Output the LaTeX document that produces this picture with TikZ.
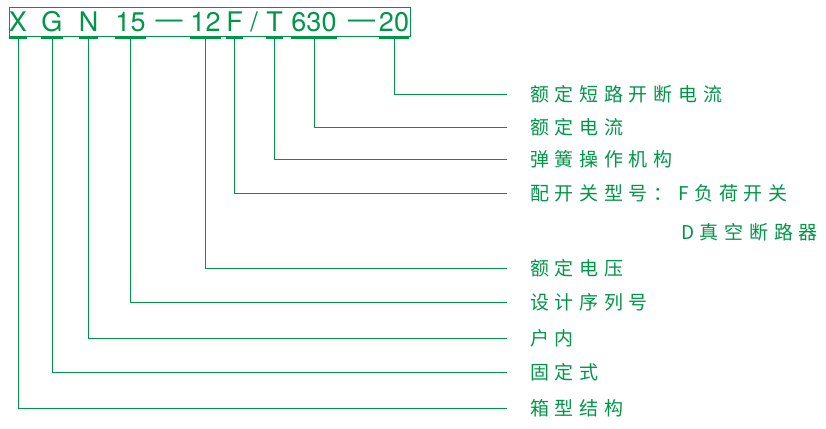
\documentclass[tikz,border=0pt]{standalone}
\usepackage{fontspec}
\setmainfont{TeX Gyre Heros}
\newfontfamily\cjk{Noto Sans CJK SC}[LetterSpace=30]
\definecolor{lgreen}{RGB}{0,150,72}

\begin{document}
\begin{tikzpicture}[x=1pt,y=-1pt,
    code/.style={anchor=base, inner sep=0pt, text depth=0pt, text=lgreen,
      font=\fontsize{27}{27}\selectfont},
    lbl/.style={anchor=west, inner sep=0pt, text=lgreen,
      font=\cjk\fontsize{19}{19}\selectfont},
    lead/.style={draw=lgreen, line width=0.9pt, shorten <=6pt, shorten >=23pt},
    tick/.style={draw=lgreen, line width=1.4pt}]
    \useasboundingbox (0,0) rectangle (826,428);
    % type code
    \node[code] (cx) at (18,32) {X};
    \node[code] (cg) at (52,32) {G};
    \node[code] (cn) at (88.5,32) {N};
    \node[code] (c15) at (130.5,32) {15};
    \node[code] (d1) at (169,29) {—};
    \node[code] (c12) at (205.5,32) {12};
    \node[code] (cf) at (234.5,32) {F};
    \node[code] (sl) at (254,32) {/};
    \node[code] (ct) at (274.5,32) {T};
    \node[code] (c630) at (314,32) {630};
    \node[code] (d2) at (361.5,29) {—};
    \node[code] (c20) at (394,32) {20};
    \draw[draw=lgreen, line width=0.9pt] (9,7) rectangle (410,36);
    \foreach \c in {cx,cg,cn,c15,c12,cf,ct,c630,c20}
        \draw[tick] ([yshift=-6pt]\c.south west) -- ([yshift=-6pt]\c.south east);
    % meanings
    \node[lbl] (brk) at (530,94) {额定短路开断电流};
    \node[lbl] (cur) at (530,127) {额定电流};
    \node[lbl] (spr) at (530,159) {弹簧操作机构};
    \node[lbl] (sw) at (530,193) {配开关型号：F负荷开关};
    \node[lbl] (sw2) at (681,232) {D真空断路器};
    \node[lbl] (volt) at (530,268) {额定电压};
    \node[lbl] (ser) at (530,302) {设计序列号};
    \node[lbl] (ind) at (530,338) {户内};
    \node[lbl] (fix) at (530,372) {固定式};
    \node[lbl] (box) at (530,408) {箱型结构};
    \draw[lead] (c20) |- (brk);
    \draw[lead] (c630) |- (cur);
    \draw[lead] (ct) |- (spr);
    \draw[lead] (cf) |- (sw);
    \draw[lead] (c12) |- (volt);
    \draw[lead] (c15) |- (ser);
    \draw[lead] (cn) |- (ind);
    \draw[lead] (cg) |- (fix);
    \draw[lead] (cx) |- (box);
\end{tikzpicture}
\end{document}
